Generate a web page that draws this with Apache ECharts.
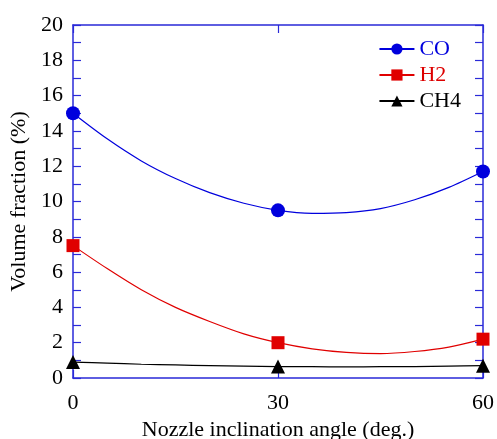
<!DOCTYPE html>
<html>
<head>
<meta charset="utf-8">
<script src="https://cdn.jsdelivr.net/npm/echarts@6/dist/echarts.min.js"></script>
<style>
  html, body { margin: 0; padding: 0; background: #fff; }
  #chart { width: 497px; height: 439px; }
</style>
</head>
<body>
<div id="chart"></div>
<script>
// measured points
const angles = [0, 30, 60]
const coPts = [15.0, 9.5, 11.7]
const h2Pts = [7.5, 2.0, 2.2]
const ch4Pts = [0.9, 0.65, 0.7]

// fitted curves, every 5 deg
const curveAngles = [0, 5, 10, 15, 20, 25, 30, 35, 40, 45, 50, 55, 60]
const coCurve = [15.0, 13.55, 12.3, 11.3, 10.5, 9.9, 9.5, 9.33, 9.37, 9.6, 10.1, 10.8, 11.7]
const h2Curve = [7.5, 6.2, 5.0, 4.0, 3.2, 2.5, 2.0, 1.65, 1.45, 1.38, 1.5, 1.75, 2.2]
const ch4Curve = [0.9, 0.84, 0.78, 0.74, 0.7, 0.67, 0.65, 0.64, 0.63, 0.64, 0.65, 0.67, 0.7]

const yTicks = [0, 2, 4, 6, 8, 10, 12, 14, 16, 18, 20]

const font = '"Liberation Serif", "Times New Roman", serif'
const axisBlue = '#2a2ad8'

function pairs(xs, ys) {
  return xs.map((x, i) => [x, ys[i]])
}

function curve(name, xs, ys, color, symbol) {
  return {
    name: name,
    type: 'line',
    data: pairs(xs, ys),
    smooth: 0.3,
    symbol: symbol,
    showSymbol: false,
    lineStyle: { color: color, width: 1.2 },
    itemStyle: { color: color },
    silent: true,
    z: 2
  }
}

function marks(name, xs, ys, color, symbol, size) {
  return {
    name: name,
    type: 'scatter',
    data: pairs(xs, ys),
    symbol: symbol,
    symbolSize: size,
    itemStyle: { color: color, opacity: 1 },
    z: 3
  }
}

const frameLine = { show: true, onZero: false, lineStyle: { color: axisBlue, width: 1.5 } }
const tickStyle = { show: true, inside: true, length: 8, lineStyle: { color: axisBlue, width: 1.2 } }
const minorStyle = { show: true, splitNumber: 2, length: 8, lineStyle: { color: axisBlue, width: 1.2 } }

const option = {
  animation: false,
  textStyle: { fontFamily: font },
  grid: { left: 73, right: 14, top: 25, bottom: 61, outerBoundsMode: 'none', containLabel: false },
  legend: {
    orient: 'vertical',
    right: 31,
    top: 33,
    itemWidth: 35,
    itemHeight: 14,
    itemGap: 4,
    textStyle: { fontFamily: font, fontSize: 22 },
    data: [
      { name: 'CO', textStyle: { color: '#0000dd' } },
      { name: 'H2', textStyle: { color: '#dd0000' } },
      { name: 'CH4', textStyle: { color: '#000' } }
    ]
  },
  xAxis: [
    {
      type: 'value', min: 0, max: 60, interval: 30,
      name: 'Nozzle inclination angle (deg.)',
      nameLocation: 'middle', nameGap: 36,
      nameTextStyle: { fontFamily: font, fontSize: 22, color: '#000' },
      axisLine: frameLine,
      axisTick: tickStyle,
      axisLabel: { fontFamily: font, fontSize: 22, color: '#000', margin: 14 },
      splitLine: { show: false }
    },
    {
      type: 'value', min: 0, max: 60, interval: 30, position: 'top',
      axisLine: frameLine,
      axisTick: tickStyle,
      axisLabel: { show: false },
      splitLine: { show: false }
    }
  ],
  yAxis: [
    {
      type: 'value', min: 0, max: 20, interval: 2,
      name: 'Volume fraction (%)',
      nameLocation: 'middle', nameGap: 40,
      nameTextStyle: { fontFamily: font, fontSize: 22, color: '#000' },
      axisLine: frameLine,
      axisTick: tickStyle,
      minorTick: minorStyle,
      axisLabel: {
        fontFamily: font, fontSize: 22, color: '#000', margin: 10,
        formatter: v => (yTicks.includes(v) ? String(v) : '')
      },
      splitLine: { show: false }
    },
    {
      type: 'value', min: 0, max: 20, interval: 2, position: 'right',
      axisLine: frameLine,
      axisTick: tickStyle,
      minorTick: minorStyle,
      axisLabel: { show: false },
      splitLine: { show: false }
    }
  ],
  series: [
    curve('CO', curveAngles, coCurve, '#0000dd', 'circle'),
    curve('H2', curveAngles, h2Curve, '#e00000', 'rect'),
    curve('CH4', curveAngles, ch4Curve, '#000000', 'triangle'),
    marks('CO points', angles, coPts, '#0000dd', 'circle', 14),
    marks('H2 points', angles, h2Pts, '#e00000', 'rect', 13),
    marks('CH4 points', angles, ch4Pts, '#000000', 'triangle', 14)
  ]
}

const chart = echarts.init(document.getElementById('chart'))
chart.setOption(option)
</script>
</body>
</html>
